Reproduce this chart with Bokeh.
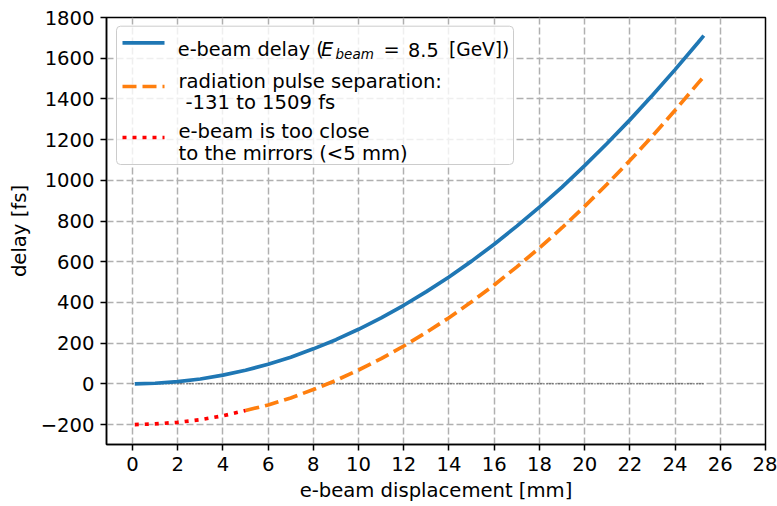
from bokeh.plotting import figure
from bokeh.models import Range1d, BoxAnnotation, Label
from bokeh.embed import file_html
from bokeh.resources import INLINE

# ---- data ----
x_beam = [0.1, 1, 2, 3, 4, 5, 6, 7, 8, 9, 10, 11, 12, 13, 14, 15, 16, 17, 18, 19,
          20, 21, 22, 23, 24, 25, 25.27]
delay_beam = [0, 3, 11, 24, 43, 67, 96, 131, 172, 217, 268, 324, 386, 453, 525, 603,
              686, 775, 868, 967, 1072, 1182, 1297, 1418, 1544, 1675, 1711]

x_sep = [5, 6, 7, 8, 9, 10, 11, 12, 13, 14, 15, 16, 17, 18, 19, 20, 21, 22, 23, 24,
         25, 25.27]
sep = [-131, -104, -69, -28, 17, 68, 124, 186, 253, 325, 403, 486, 575, 668, 767, 872,
       982, 1097, 1218, 1344, 1475, 1509]

x_close = [0.1, 1, 2, 3, 4, 5]
sep_close = [-200, -197, -189, -176, -157, -131]

zero_x = [0, 25.27]
zero_y = [0, 0]

x_ticks = [0, 2, 4, 6, 8, 10, 12, 14, 16, 18, 20, 22, 24, 26, 28]
y_ticks = [-200, 0, 200, 400, 600, 800, 1000, 1200, 1400, 1600, 1800]

legend_labels = ["e-beam delay (", "E", "beam", "=", "8.5", "[GeV])",
                 "radiation pulse separation:", "-131 to 1509 fs",
                 "e-beam is too close", "to the mirrors (<5 mm)"]

# ---- layout ----
W, H = 777, 506
X0, X1 = -1.15, 28.0
Y0, Y1 = -298.0, 1800.0
FL, FT, FW, FH = 106, 17, 659, 427
FONT = "DejaVu Sans"
FS = "19.6px"
FS1 = "19.3px"

def px2x(px):
    return X0 + (px - FL) / FW * (X1 - X0)

def py2y(py):
    return Y1 - (py - FT) / FH * (Y1 - Y0)

p = figure(width=W, height=H, x_range=Range1d(X0, X1), y_range=Range1d(Y0, Y1),
           output_backend="svg", toolbar_location=None,
           min_border_left=FL, min_border_top=FT,
           min_border_right=W - FL - FW, min_border_bottom=H - FT - FH)
p.title.text = ""
p.title.visible = False
p.background_fill_color = "white"
p.border_fill_color = "white"
p.outline_line_color = "black"
p.outline_line_width = 1.5

# axes
p.xaxis.ticker = x_ticks
p.yaxis.ticker = y_ticks
p.yaxis.major_label_overrides = {-200: "\u2212200"}
for ax in (p.xaxis, p.yaxis):
    ax.major_label_text_font = FONT
    ax.major_label_text_font_size = FS
    ax.major_label_text_color = "black"
    ax.axis_label_text_font = FONT
    ax.axis_label_text_font_size = FS
    ax.axis_label_text_font_style = "normal"
    ax.axis_label_text_color = "black"
    ax.axis_line_color = "black"
    ax.axis_line_width = 1.5
    ax.major_tick_line_color = "black"
    ax.major_tick_line_width = 1.5
    ax.major_tick_in = 0
    ax.major_tick_out = 6
    ax.minor_tick_line_color = None
    ax.major_label_standoff = 6
p.xaxis.axis_label = "e-beam displacement [mm]"
p.yaxis.axis_label = "delay [fs]"
p.xaxis.axis_label_standoff = 5
p.yaxis.axis_label_standoff = 7

# grid
for g in (p.xgrid, p.ygrid):
    g.grid_line_color = "#b0b0b0"
    g.grid_line_width = 1.5
    g.grid_line_dash = "7 3"

# data
p.line(zero_x, zero_y, line_color="black", line_width=1, line_dash="1 2")
p.line(x_beam, delay_beam, line_color="#1f77b4", line_width=3.7)
p.line(x_sep, sep, line_color="#ff7f0e", line_width=3.7, line_dash="14 6")
p.line(x_close, sep_close, line_color="red", line_width=3.7, line_dash="4 6")

# legend (manual, to allow the italic subscript)
box = BoxAnnotation(left=px2x(116), right=px2x(513), top=py2y(25.7), bottom=py2y(164),
                    fill_color="white", fill_alpha=0.8, line_color="#cccccc",
                    line_width=1, line_alpha=1, border_radius=4)
p.add_layout(box)

hx = [px2x(122), px2x(164)]
r1 = p.line(hx, [py2y(42.3)] * 2, line_color="#1f77b4", line_width=3.7)
r2 = p.line(hx, [py2y(86)] * 2, line_color="#ff7f0e", line_width=3.7, line_dash="14 6")
r3 = p.line(hx, [py2y(137)] * 2, line_color="red", line_width=3.7, line_dash="4 6")
for r in (r1, r2, r3):
    r.level = "overlay"

def lab(text, px, py, size=FS, style="normal"):
    p.add_layout(Label(x=px2x(px), y=py2y(py), text=text, text_font=FONT,
                       text_font_size=size, text_font_style=style, text_color="black",
                       text_align="left", text_baseline="alphabetic"))

lab(legend_labels[0], 177.3, 49, size=FS1)
lab(legend_labels[1], 320.5, 49, size=FS1, style="italic")
lab(legend_labels[2], 335.0, 53, size="13.5px", style="italic")
lab(legend_labels[3], 383.0, 49, size=FS1)
lab(legend_labels[4], 407.5, 49, size=FS1)
lab(legend_labels[5], 448.5, 49, size="18.6px")
lab(legend_labels[6], 178.0, 81)
lab(legend_labels[7], 185.0, 101.7)
lab(legend_labels[8], 178.0, 130.7)
lab(legend_labels[9], 178.0, 152.7)

open("out.html", "w").write(file_html(p, INLINE))
